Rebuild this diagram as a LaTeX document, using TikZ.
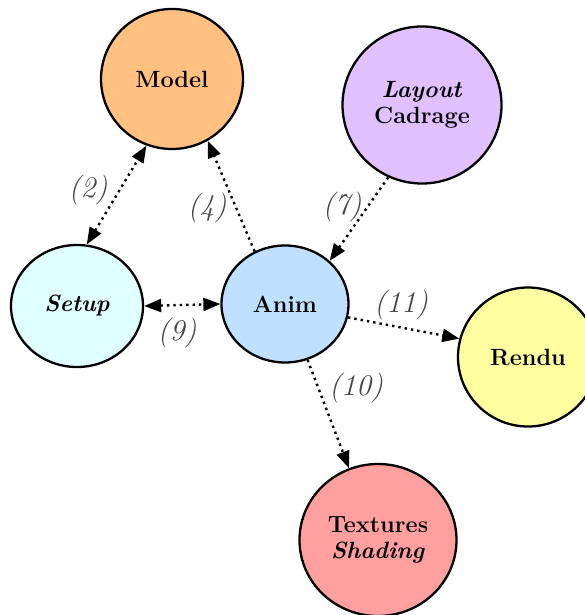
\documentclass[tikz,border=0pt]{standalone}
\usepackage{fontspec}
\usetikzlibrary{arrows.meta,shapes.geometric}
\definecolor{cmodel}{RGB}{255,192,128}
\definecolor{clayout}{RGB}{224,192,255}
\definecolor{csetup}{RGB}{224,255,255}
\definecolor{canim}{RGB}{192,224,255}
\definecolor{crendu}{RGB}{255,255,160}
\definecolor{ctex}{RGB}{255,160,160}
\definecolor{clab}{RGB}{70,70,70}
\tikzset{
  bubble/.style={ellipse, draw=black, line width=2.3pt, inner sep=0pt, align=center,
    font=\fontsize{23.5}{26}\selectfont\bfseries},
  link/.style={line width=2.4pt, dash pattern=on 2.4pt off 4pt, -{Triangle[length=17pt,width=13pt]}},
  biglink/.style={line width=2.4pt, dash pattern=on 2.4pt off 4pt, {Triangle[length=17pt,width=13pt]}-{Triangle[length=17pt,width=13pt]}},
  lab/.style={font=\fontsize{30}{32}\selectfont\itshape, text=clab}
}
\begin{document}
\begin{tikzpicture}[x=1pt,y=-1pt]
\useasboundingbox (0,0) rectangle (584,615);
\node[bubble, fill=cmodel, minimum width=142pt, minimum height=140pt] (model) at (172,79) {Model};
\node[bubble, fill=clayout, minimum width=159pt, minimum height=157pt] (layout) at (422,105) {\textit{Layout}\\Cadrage};
\node[bubble, fill=csetup, minimum width=132pt, minimum height=122pt] (setup) at (77,306) {\textit{Setup}};
\node[bubble, fill=canim, minimum width=127pt, minimum height=117pt] (anim) at (285,304) {Anim};
\node[bubble, fill=crendu, minimum width=140pt, minimum height=139pt] (rendu) at (528,357) {Rendu};
\node[bubble, fill=ctex, minimum width=157pt, minimum height=152pt] (tex) at (378,540) {Textures\\\textit{Shading}};

\draw[biglink] (setup.81) -- (model.249);
\draw[link] (anim.120) -- (model.300);
\draw[link] (layout.245) -- (anim.44);
\draw[biglink] (setup.0) -- (anim.180);
\draw[link] (anim.-12) -- (rendu.165);
\draw[link] (anim.292) -- (tex.112);

\node[lab] (l2) at (88,190) {(2)};
\node[lab] (l4) at (207,208) {(4)};
\node[lab] (l7) at (342,207) {(7)};
\node[lab] (l9) at (177,333) {(9)};
\node[lab] (l11) at (401,305) {(11)};
\node[lab] (l10) at (356,388) {(10)};
\end{tikzpicture}
\end{document}
